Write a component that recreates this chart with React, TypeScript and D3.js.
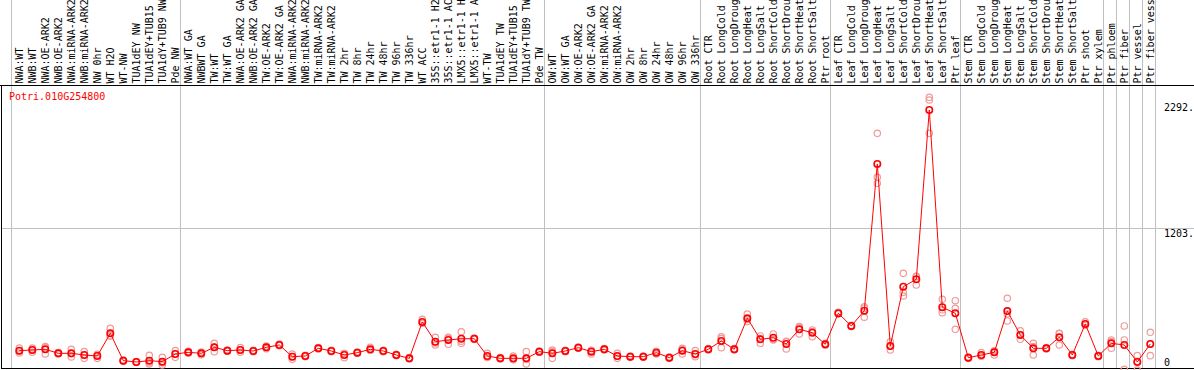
import React, { useEffect, useRef } from 'react';
import * as d3 from 'd3';

const geneId = 'Potri.010G254800';

const categories = [
  'NWA:WT', 'NWB:WT', 'NWA:OE-ARK2', 'NWB:OE-ARK2', 'NWA:miRNA-ARK2', 'NWB:miRNA-ARK2',
  'NW 0hr', 'WT H2O', 'WT-NW', 'TUA1dEY NW', 'TUA1dEY+TUB15 NW', 'TUA1dY+TUB9 NW', 'Pde NW',
  'NWA:WT GA', 'NWBWT GA', 'TW:WT', 'TW:WT GA', 'NWA:OE-ARK2 GA', 'NWB:OE-ARK2 GA',
  'TW:OE-ARK2', 'TW:OE-ARK2 GA', 'NWA:miRNA-ARK2', 'NWB:miRNA-ARK2', 'TW:miRNA-ARK2',
  'TW:miRNA-ARK2', 'TW 2hr', 'TW 8hr', 'TW 24hr', 'TW 48hr', 'TW 96hr', 'TW 336hr',
  'WT ACC', '35S::etr1-1 H2O', '35S::etr1-1 ACC', 'LMX5::etr1-1 H2O', 'LMX5::etr1-1 ACC',
  'WT-TW', 'TUA1dEY TW', 'TUA1dEY+TUB15 TW', 'TUA1dY+TUB9 TW', 'Pde TW',
  'OW:WT', 'OW:WT GA', 'OW:OE-ARK2', 'OW:OE-ARK2 GA', 'OW:miRNA-ARK2', 'OW:miRNA-ARK2',
  'OW 2hr', 'OW 8hr', 'OW 24hr', 'OW 48hr', 'OW 96hr', 'OW 336hr',
  'Root CTR', 'Root LongCold', 'Root LongDrought', 'Root LongHeat', 'Root LongSalt',
  'Root ShortCold', 'Root ShortDrought', 'Root ShortHeat', 'Root ShortSalt', 'Ptr root',
  'Leaf CTR', 'Leaf LongCold', 'Leaf LongDrought', 'Leaf LongHeat', 'Leaf LongSalt',
  'Leaf ShortCold', 'Leaf ShortDrought', 'Leaf ShortHeat', 'Leaf ShortSalt', 'Ptr leaf',
  'Stem CTR', 'Stem LongCold', 'Stem LongDrought', 'Stem LongHeat', 'Stem LongSalt',
  'Stem ShortCold', 'Stem ShortDrought', 'Stem ShortHeat', 'Stem ShortSalt', 'Ptr shoot',
  'Ptr xylem', 'Ptr phloem', 'Ptr fiber', 'Ptr vessel', 'Ptr fiber vessel'
];

// mean expression per sample
const means = [
  102, 108, 114, 78, 78, 63, 54, 258, 12, 0, 12, 3, 72,
  87, 78, 132, 102, 108, 99, 132, 153, 48, 54, 123, 99, 63, 84, 114, 99, 63, 33,
  360, 182, 198, 209, 209, 54, 33, 33, 33, 93,
  78, 99, 129, 93, 114, 54, 48, 48, 84, 39, 102, 72,
  114, 189, 114, 393, 204, 218, 162, 294, 263, 159,
  438, 324, 461, 1780, 144, 677, 743, 2265, 492, 438,
  39, 63, 87, 458, 243, 123, 123, 222, 63, 342, 54,
  168, 153, 0, 162
];

// individual replicates per sample
const replicates = [
  [126, 81, 99], [126, 87, 111], [139, 72, 131], [84, 72, 78], [114, 45, 75],
  [93, 33, 63], [69, 33, 60], [303, 234, 237], [18, 6, 12], [3, -3, 0],
  [60, -18, -6], [42, -27, -6], [102, 42, 72],
  [96, 78, 87], [90, 66, 78], [168, 93, 135], [108, 96, 102], [129, 87, 108],
  [105, 93, 99], [144, 120, 132], [162, 147, 150], [72, 24, 48], [60, 48, 54],
  [129, 117, 123], [105, 93, 99], [39, 75, 75], [90, 78, 84], [132, 105, 105],
  [105, 93, 99], [69, 57, 63], [39, 27, 33],
  [384, 348, 348], [222, 153, 171], [222, 159, 213], [272, 168, 187], [215, 203, 209],
  [78, 42, 42], [39, 27, 33], [54, 21, 24], [93, 24, -18], [99, 87, 93],
  [93, 33, 108], [105, 93, 99], [135, 123, 129], [72, 105, 102], [120, 108, 114],
  [78, 33, 51], [54, 42, 48], [54, 42, 48], [96, 72, 84], [45, 33, 39],
  [123, 72, 111], [102, 48, 66],
  [120, 108, 114], [227, 129, 211], [120, 108, 114], [431, 384, 364], [234, 168, 210],
  [252, 198, 204], [182, 117, 187], [312, 252, 318], [288, 227, 274], [168, 150, 159],
  [447, 432, 435], [318, 330, 324], [497, 402, 484], [2055, 1660, 1606], [182, 108, 142],
  [797, 626, 593], [692, 770, 767], [2379, 2355, 2055], [564, 443, 469], [551, 483, 294],
  [45, 33, 39], [84, 51, 54], [63, 99, 99], [573, 369, 432], [281, 204, 244],
  [168, 63, 138], [129, 117, 123], [258, 153, 255], [69, 57, 63], [362, 330, 334],
  [60, 48, 54], [198, 123, 183], [324, 198, -66], [57, -72, 6], [267, 57, 162]
];

const yLabels = [2292, 1203, 0];
const gridValues = [1203];
// a grey separator follows these sample indexes (-1 = before the first one)
const groupEnds = [-1, 12, 40, 52, 62, 72, 83, 84, 85, 86, 87];

const W = 1194, H = 370;
const mono = "'DejaVu Sans Mono', monospace";

export default function App() {
  const ref = useRef<SVGSVGElement>(null);

  useEffect(() => {
    const svg = d3.select(ref.current);
    svg.selectAll('*').remove();

    const x = d3.scalePoint<number>()
      .domain(d3.range(categories.length))
      .range([19.3, 1150.3]);
    const step = x.step();
    const y = d3.scaleLinear().domain([0, 2292]).range([362, 107]);

    const frameTop = 85.5, frameBottom = 368.5;
    const snap = (v: number) => Math.floor(v) + 0.5;

    svg.append('rect').attr('width', W).attr('height', H).attr('fill', '#fff');

    // separators
    svg.append('g')
      .selectAll('line')
      .data(groupEnds)
      .enter().append('line')
      .attr('x1', d => snap(x(0)! + d * step + 5))
      .attr('x2', d => snap(x(0)! + d * step + 5))
      .attr('y1', 0)
      .attr('y2', frameBottom)
      .attr('stroke', '#c0c0c0')
      .attr('shape-rendering', 'crispEdges');

    svg.append('g')
      .selectAll('line')
      .data(gridValues)
      .enter().append('line')
      .attr('x1', 1.5)
      .attr('x2', W)
      .attr('y1', d => snap(y(d)))
      .attr('y2', d => snap(y(d)))
      .attr('stroke', '#c0c0c0')
      .attr('shape-rendering', 'crispEdges');

    // frame
    const frame = svg.append('g')
      .attr('stroke', '#000')
      .attr('shape-rendering', 'crispEdges');
    frame.append('line').attr('x1', 0).attr('x2', W).attr('y1', frameTop).attr('y2', frameTop);
    frame.append('line').attr('x1', 1.5).attr('x2', W).attr('y1', frameBottom).attr('y2', frameBottom);
    frame.append('line').attr('x1', 1.5).attr('x2', 1.5).attr('y1', frameTop).attr('y2', frameBottom);

    // sample labels
    svg.append('g')
      .selectAll('text')
      .data(categories)
      .enter().append('text')
      .attr('transform', (d, i) => 'translate(' + (x(i)! + 3.4) + ',83.5) rotate(-90)')
      .attr('font-family', mono)
      .attr('font-size', 10)
      .attr('fill', '#000')
      .text(d => d);

    // value labels
    svg.append('g')
      .selectAll('text')
      .data(yLabels)
      .enter().append('text')
      .attr('x', 1164)
      .attr('y', d => y(d) + 3.6 + (gridValues.includes(d) ? 5 : 0))
      .attr('font-family', mono)
      .attr('font-size', 10)
      .attr('fill', '#000')
      .text(d => (d === 0 ? '0' : d + '.'));

    svg.append('text')
      .attr('x', 9)
      .attr('y', 100.3)
      .attr('font-family', mono)
      .attr('font-size', 10)
      .attr('fill', '#f00')
      .text(geneId);

    // replicates
    const reps = replicates.flatMap((r, i) => r.map(v => ({ i, v })));
    svg.append('g')
      .selectAll('circle')
      .data(reps)
      .enter().append('circle')
      .attr('cx', d => x(d.i)!)
      .attr('cy', d => y(d.v))
      .attr('r', 3.2)
      .attr('fill', 'none')
      .attr('stroke', '#f09a9a')
      .attr('stroke-width', 1.2);

    const line = d3.line<number>()
      .x((d, i) => x(i)!)
      .y(d => y(d));

    svg.append('path')
      .datum(means)
      .attr('d', line)
      .attr('fill', 'none')
      .attr('stroke', '#f00')
      .attr('stroke-width', 1);

    svg.append('g')
      .selectAll('circle')
      .data(means)
      .enter().append('circle')
      .attr('cx', (d, i) => x(i)!)
      .attr('cy', d => y(d))
      .attr('r', 3.2)
      .attr('fill', 'none')
      .attr('stroke', '#f00')
      .attr('stroke-width', 1.6);
  }, []);

  return (
    <div style={{ position: 'absolute', left: 0, top: 0 }}>
      <svg ref={ref} width={W} height={H} style={{ display: 'block' }} />
    </div>
  );
}
